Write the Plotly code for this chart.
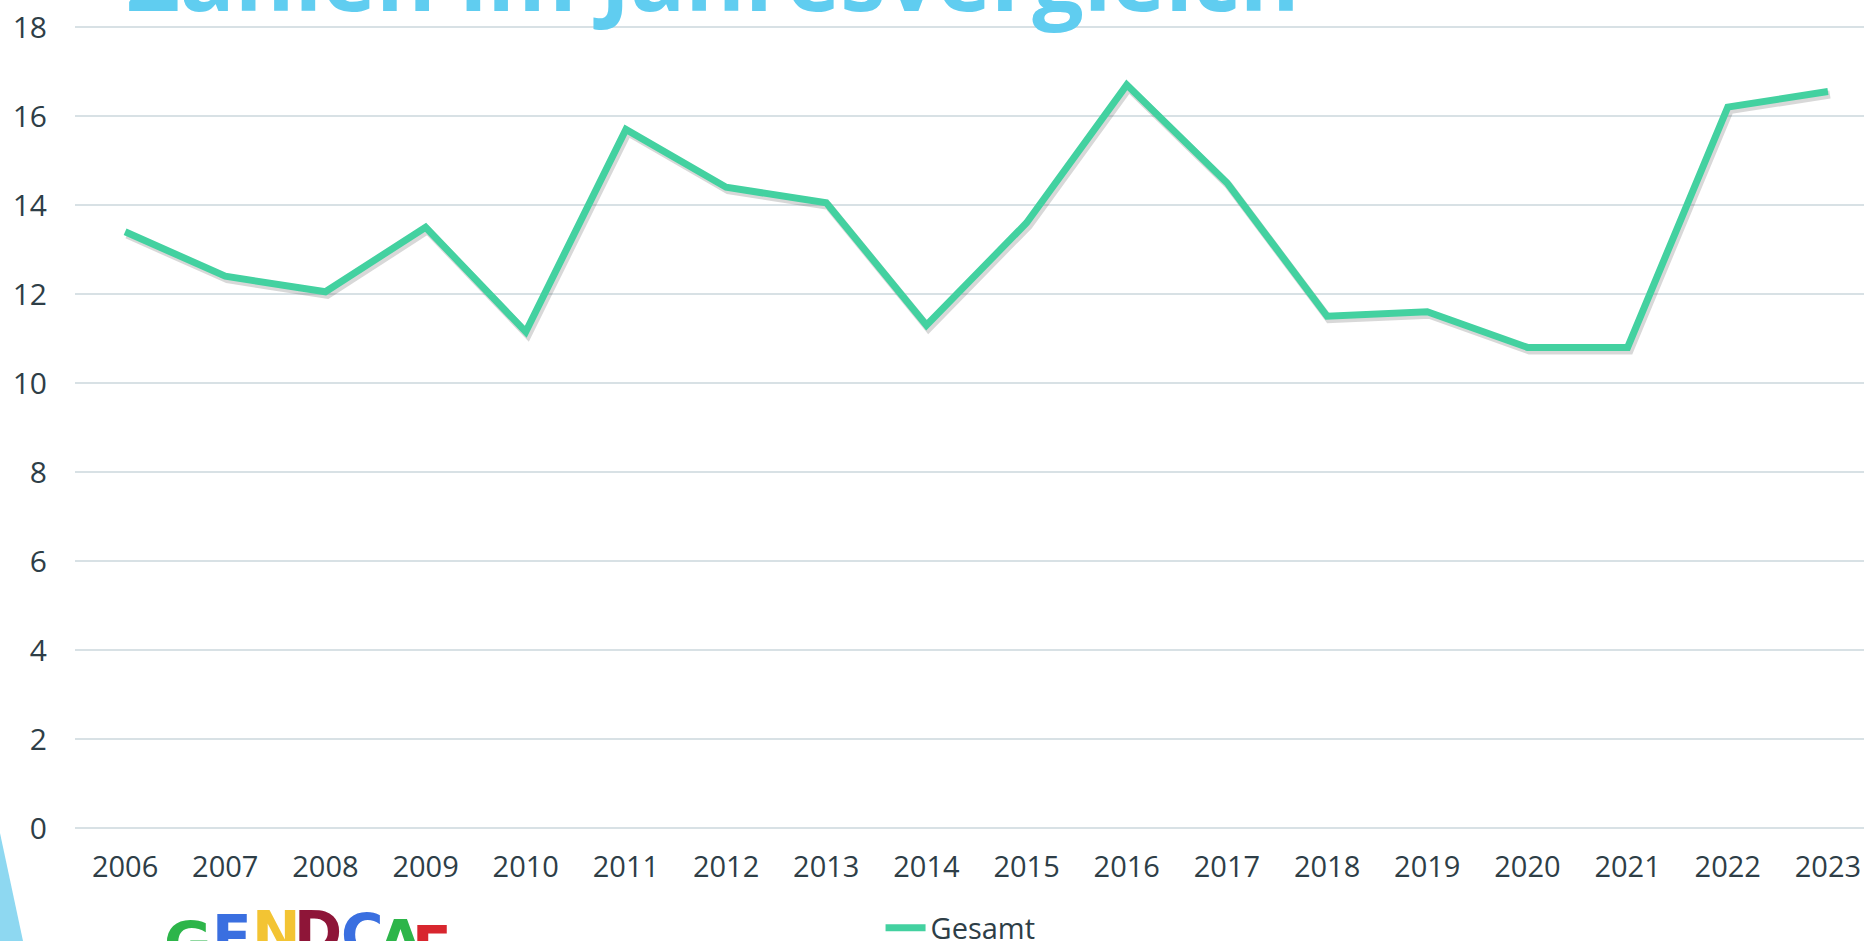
import plotly.graph_objects as go

years = ["2006", "2007", "2008", "2009", "2010", "2011", "2012", "2013", "2014",
         "2015", "2016", "2017", "2018", "2019", "2020", "2021", "2022", "2023"]
gesamt = [13.4, 12.4, 12.05, 13.5, 11.15, 15.7, 14.4, 14.05, 11.3,
          13.6, 16.7, 14.5, 11.5, 11.6, 10.8, 10.8, 16.2, 16.55]
series_name = "Gesamt"
title_text = "Zahlen im Jahresvergleich"
y_ticks = [0, 2, 4, 6, 8, 10, 12, 14, 16, 18]
logo_letters = ["G", "E", "N", "D", "C", "A", "F"]
logo_colors = ["#2DB54A", "#3A6FE0", "#F3C433", "#8E1538", "#3A6FE0", "#2DB54A", "#D8262E"]

W, H = 1864, 941
ML, MR, MT, MB = 75, 0, 25, 111
plot_w = W - ML - MR
plot_h = H - MT - MB

LINE = "#43D1A0"
TEXT = "#2E3E47"
GRID = "#D8E1E5"

x_range = [-0.5, 17.36]
pad_y = 18 * 2 / (plot_h - 4)
y_range = [-pad_y, 18 + pad_y]
# shadow offset in data units (approx 2px right, 3px down)
dx = 2 * (x_range[1] - x_range[0]) / plot_w
dy = 3 * (y_range[1] - y_range[0]) / plot_h

fig = go.Figure()

# invisible trace anchoring the visible base axes (ticks + grid)
fig.add_trace(go.Scatter(
    x=years, y=gesamt, mode="lines", line=dict(color="rgba(0,0,0,0)", width=0),
    showlegend=False, hoverinfo="skip"))

# soft shadow, drawn on shifted overlay axes
fig.add_trace(go.Scatter(
    x=years, y=gesamt, mode="lines", xaxis="x2", yaxis="y2",
    line=dict(color="rgba(60,60,60,0.20)", width=8), showlegend=False, hoverinfo="skip"))

# main line on an overlay drawn above the shadow
fig.add_trace(go.Scatter(
    x=years, y=gesamt, mode="lines", name=series_name, xaxis="x3", yaxis="y3",
    line=dict(color=LINE, width=7), showlegend=True))

hidden_cat = dict(type="category", overlaying="x", visible=False,
                  categoryarray=years, categoryorder="array")
fig.update_layout(
    width=W, height=H,
    margin=dict(l=ML, r=MR, t=MT, b=MB, pad=0, autoexpand=False),
    paper_bgcolor="white", plot_bgcolor="white",
    font=dict(family="Open Sans, Noto Sans, sans-serif", color=TEXT, size=29),
    xaxis=dict(type="category", categoryarray=years, categoryorder="array",
               range=x_range, showgrid=False, zeroline=False,
               showline=False, ticks="", tickfont=dict(size=29, color=TEXT),
               ticklabelstandoff=17, automargin=False, fixedrange=True),
    yaxis=dict(range=y_range, tickvals=y_ticks, showgrid=True, gridcolor=GRID,
               gridwidth=2, zeroline=False, showline=False, ticks="",
               tickfont=dict(size=30, color=TEXT), ticklabelstandoff=27,
               automargin=False, fixedrange=True),
    xaxis2=dict(hidden_cat, range=[x_range[0] - dx, x_range[1] - dx]),
    yaxis2=dict(overlaying="y", range=[y_range[0] + dy, y_range[1] + dy], visible=False),
    xaxis3=dict(hidden_cat, range=x_range),
    yaxis3=dict(overlaying="y", range=y_range, visible=False),
    showlegend=True,
    legend=dict(orientation="h", x=0.495, xanchor="center", y=-0.1217, yanchor="middle",
                font=dict(size=29, color=TEXT), bgcolor="rgba(0,0,0,0)",
                itemwidth=40, tracegroupgap=0),
)

def px(x):
    return (x - ML) / plot_w

def py(y):
    return (H - MB - y) / plot_h

# Title (partially cut off at top of slide); baseline near y=19px
fig.add_annotation(
    text=title_text, xref="paper", yref="paper", x=px(125), y=py(40),
    xanchor="left", yanchor="bottom", showarrow=False,
    font=dict(family="Open Sans, sans-serif", size=91, color="#60CDF0", weight=700))

# Decorative light-blue slide shape at the left edge
fig.add_shape(type="path", xref="paper", yref="paper",
              path=f"M {px(0)},{py(833)} L {px(23)},{py(941)} L {px(0)},{py(941)} Z",
              fillcolor="#8ED8F1", line=dict(width=0), layer="above")

# Logo letters peeking in at the bottom
logo_x = [188, 232, 276, 318, 362, 400, 432]
logo_top = [922, 915, 911, 911, 914, 920, 926]
for ch, col, lx, lt in zip(logo_letters, logo_colors, logo_x, logo_top):
    fig.add_annotation(text=f"<b>{ch}</b>", xref="paper", yref="paper",
                       x=px(lx), y=py(lt - 14), xanchor="center", yanchor="top",
                       showarrow=False,
                       font=dict(family="DejaVu Sans, sans-serif", size=58, color=col))

fig.write_html("out.html", config={"displayModeBar": False},
               post_script="document.body.style.margin='0';document.body.style.overflow='hidden';")
